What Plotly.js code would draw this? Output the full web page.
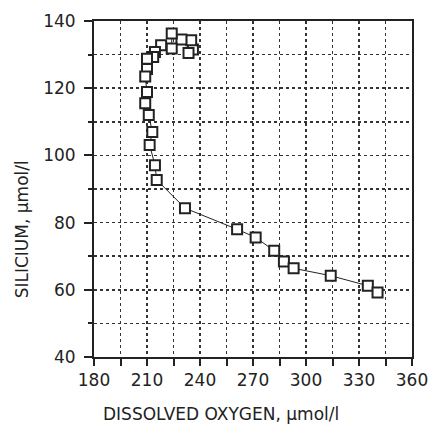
<!DOCTYPE html>
<html>
<head>
<meta charset="utf-8">
<script src="https://cdn.plot.ly/plotly-3.0.1.min.js"></script>
<style>html,body{margin:0;padding:0;background:#fff;}#chart{width:433px;height:431px;}</style>
</head>
<body>
<div id="chart"></div>
<script>
const oxygen = [236, 233.5, 235, 229.5, 224, 224, 218, 214.5, 213.5, 210, 210, 209, 210, 209, 211, 213, 211.5, 214.5, 215.5, 231.5, 261, 271.5, 282, 287.5, 293, 314, 335, 340.5];
const silicium = [131.5, 130.5, 134.3, 134.5, 136.3, 131.8, 132.8, 130.8, 129.3, 128.8, 125.7, 123.5, 118.9, 115.5, 112, 107, 103.1, 97.1, 92.7, 84.3, 78, 75.6, 71.6, 68.4, 66.4, 64.2, 61.2, 59.2];
const xTitle = "DISSOLVED OXYGEN, µmol/l";
const yTitle = "SILICIUM, µmol/l";

const ink = '#222';
const font = {family: 'DejaVu Sans, Arial, sans-serif', size: 17, color: ink};

const trace = {
  x: oxygen, y: silicium,
  mode: 'lines+markers',
  type: 'scatter',
  line: {color: ink, width: 1},
  marker: {symbol: 'square', size: 10, color: '#fff', line: {color: ink, width: 2}},
  hoverinfo: 'skip'
};

const grid = {gridcolor: '#333', gridwidth: 1.6, griddash: 'dot'};

const layout = {
  width: 433, height: 431,
  margin: {l: 94, r: 21, t: 21, b: 74},
  paper_bgcolor: '#fff', plot_bgcolor: '#fff',
  showlegend: false,
  font: font,
  xaxis: Object.assign({
    range: [180, 360], dtick: 30, tick0: 180,
    ticks: 'outside', ticklen: 7, tickwidth: 2, tickcolor: ink,
    showline: true, linewidth: 2, linecolor: ink, mirror: true,
    showgrid: true, zeroline: false,
    minor: Object.assign({dtick: 15, ticks: 'outside', ticklen: 7, tickwidth: 2, tickcolor: ink, showgrid: true}, grid),
    tickfont: font
  }, grid),
  yaxis: Object.assign({
    range: [40, 140], dtick: 20, tick0: 40,
    ticks: 'outside', ticklen: 8, tickwidth: 2, tickcolor: ink,
    ticklabelstandoff: 5,
    showline: true, linewidth: 2, linecolor: ink, mirror: true,
    showgrid: true, zeroline: false,
    minor: Object.assign({dtick: 10, ticks: 'outside', ticklen: 4, tickwidth: 2, tickcolor: ink, showgrid: true}, grid),
    tickfont: font
  }, grid),
  annotations: [
    {text: xTitle, xref: 'paper', yref: 'paper', x: 0.40, y: 0, yshift: -45, xanchor: 'center', yanchor: 'top', showarrow: false, font: font},
    {text: yTitle, xref: 'paper', yref: 'paper', x: 0, xshift: -72, y: 0.38, xanchor: 'center', yanchor: 'middle', textangle: -90, showarrow: false, font: font}
  ]
};

Plotly.newPlot('chart', [trace], layout, {displayModeBar: false, staticPlot: true});
</script>
</body>
</html>
